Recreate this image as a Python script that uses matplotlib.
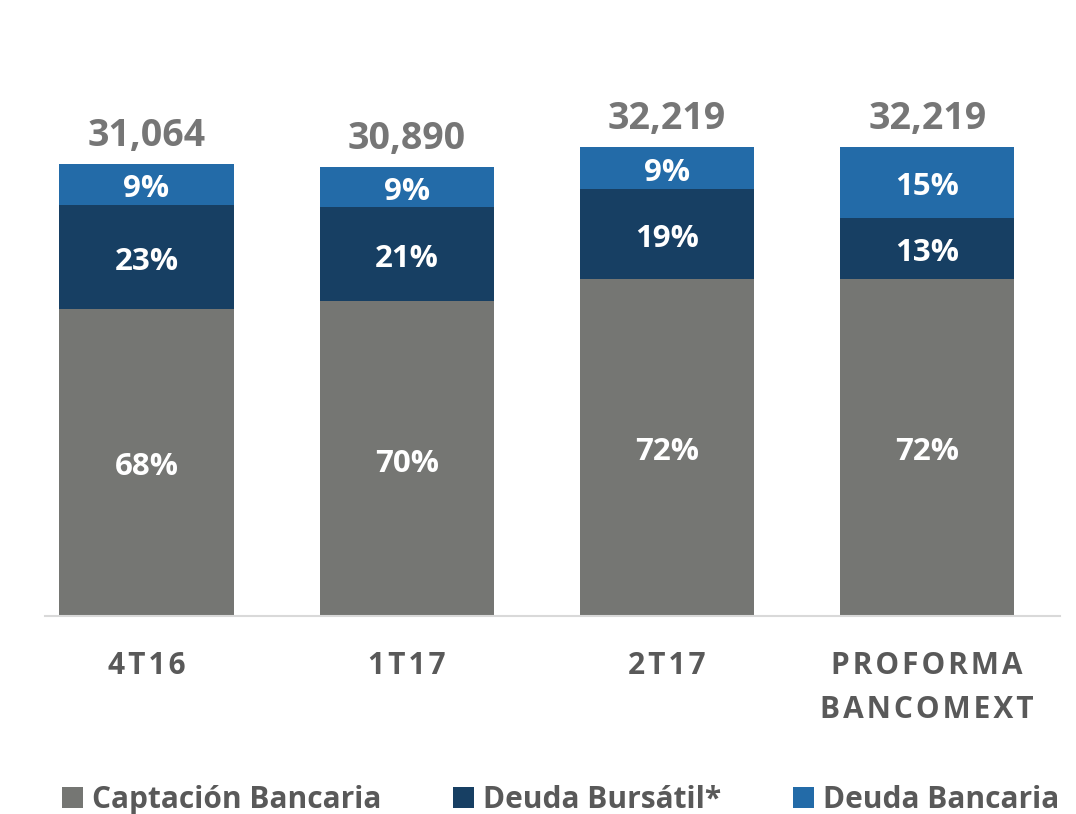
import matplotlib.pyplot as plt
import numpy as np

plt.rcParams['font.family'] = ['Open Sans', 'DejaVu Sans']

categories = ['4T16', '1T17', '2T17', 'PROFORMA\nBANCOMEXT']
totals = [31064, 30890, 32219, 32219]
captacion = [68, 70, 72, 72]
deuda_bursatil = [23, 21, 19, 13]
deuda_bancaria = [9, 9, 9, 15]
series_names = ['Captación Bancaria', 'Deuda Bursátil*', 'Deuda Bancaria']

colors = ['#757673', '#173F63', '#236BA8']
txt_gray = '#595959'


def spaced(s, sep='\u200a'):
    # fake letter spacing like the original
    return '\n'.join(sep.join(line) for line in s.split('\n'))


fig = plt.figure(figsize=(10.76, 8.14), dpi=100)
ax = fig.add_axes([0.0418, 0.2432, 0.9432, 0.715])

x = np.arange(len(categories))
tot = np.array(totals, dtype=float)
bottom = np.zeros(len(categories))
for name, pct, c in zip(series_names, [captacion, deuda_bursatil, deuda_bancaria], colors):
    h = tot * np.array(pct) / 100.0
    ax.bar(x, h, 0.67, bottom=bottom, color=c, label=name, zorder=2)
    for xi, b, hi, p in zip(x, bottom, h, pct):
        ax.annotate(f'{p}%', (xi, b + hi / 2), xytext=(0, -3.5), textcoords='offset points',
                    ha='center', va='center', color='white',
                    fontsize=22.5, fontweight='bold', zorder=3)
    bottom = bottom + h

for xi, t in zip(x, totals):
    ax.annotate(f'{t:,}', (xi, t), xytext=(0, 13), textcoords='offset points',
                ha='center', va='baseline', color='#767676', fontsize=27, fontweight='bold')

ax.set_xlim(-0.39, 3.51)
ax.set_ylim(0, 40000)
ax.set_yticks([])
for s in ['top', 'right', 'left']:
    ax.spines[s].set_visible(False)
ax.spines['bottom'].set_color('#D9D9D9')
ax.spines['bottom'].set_linewidth(1.5)

ax.set_xticks(x)
ax.set_xticklabels([spaced(c) for c in categories], fontsize=21.5, fontweight='bold',
                   color=txt_gray, linespacing=1.6, va='top')
ax.tick_params(axis='x', length=0, pad=25)

leg = fig.legend(loc='lower center', ncol=3, frameon=False, bbox_to_anchor=(0.521, -0.034),
                 fontsize=21.5, handlelength=0.7, handleheight=0.7, handletextpad=0.3,
                 columnspacing=2.4)
for t in leg.get_texts():
    t.set_color(txt_gray)
    t.set_fontweight('bold')

fig.savefig('out.png', dpi=100)
